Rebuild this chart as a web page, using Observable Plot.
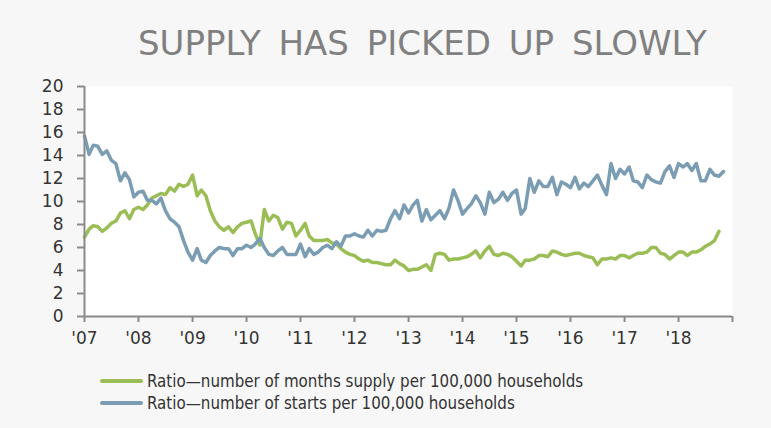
<!DOCTYPE html>
<html><head><meta charset="utf-8">
<script src="https://cdn.jsdelivr.net/npm/d3@7"></script>
<script src="https://cdn.jsdelivr.net/npm/@observablehq/plot@0.6"></script>
<style>
html,body{margin:0;padding:0;background:#f7f7f7;}
body{position:relative;width:771px;height:428px;overflow:hidden;font-family:"DejaVu Sans",Verdana,sans-serif;}
#title{position:absolute;left:138px;top:26px;font-size:34px;line-height:34px;color:#808080;white-space:nowrap;word-spacing:7px;}
#chart{position:absolute;left:0;top:70px;}
#legend{position:absolute;left:100px;top:370px;color:#333;font-family:"DejaVu Sans Condensed","DejaVu Sans",sans-serif;font-size:16.8px;}
.row{display:flex;align-items:center;height:22px;line-height:22px;white-space:nowrap;}
.sw{width:43px;height:4px;border-radius:2px;margin-right:4px;}
</style></head><body>
<div id="title">SUPPLY HAS PICKED UP SLOWLY</div>
<div id="chart"></div>
<div id="legend"></div>
<script>
const startYear = 2007;
const seriesNames = ["Ratio\u2014number of months supply per 100,000 households", "Ratio\u2014number of starts per 100,000 households"];
const seriesColors = ["#9bbd56", "#7b9db3"];
// monthly values, from Jan 2007
const supplyRatio = [
  6.9, 7.6, 7.9, 7.8, 7.4, 7.7, 8.1, 8.3, 9.0, 9.2, 8.5, 9.3,
  9.5, 9.3, 9.7, 10.3, 10.5, 10.7, 10.6, 11.2, 10.9, 11.5, 11.3, 11.5,
  12.3, 10.5, 11.0, 10.5, 9.2, 8.3, 7.8, 7.5, 7.8, 7.3, 7.8, 8.1,
  8.2, 8.3, 7.2, 6.2, 9.3, 8.3, 8.8, 8.6, 7.6, 8.2, 8.1, 7.0,
  7.5, 8.1, 7.0, 6.6, 6.6, 6.6, 6.7, 6.4, 6.3, 5.9, 5.6, 5.4,
  5.3, 5.0, 4.8, 4.9, 4.7, 4.7, 4.6, 4.5, 4.5, 4.9, 4.6, 4.4,
  4.0, 4.1, 4.1, 4.3, 4.5, 4.0, 5.4, 5.5, 5.4, 4.9, 5.0, 5.0,
  5.1, 5.2, 5.4, 5.7, 5.1, 5.7, 6.1, 5.4, 5.3, 5.5, 5.4, 5.2,
  4.8, 4.4, 4.9, 4.9, 5.0, 5.3, 5.3, 5.2, 5.7, 5.6, 5.4, 5.3,
  5.4, 5.5, 5.5, 5.3, 5.2, 5.1, 4.5, 5.0, 5.0, 5.1, 5.0, 5.3,
  5.3, 5.1, 5.3, 5.5, 5.5, 5.6, 6.0, 6.0, 5.5, 5.4, 5.0, 5.3,
  5.6, 5.6, 5.3, 5.6, 5.6, 5.8, 6.1, 6.3, 6.6, 7.4
];
const startsRatio = [
  15.7, 14.1, 14.9, 14.8, 14.1, 14.4, 13.6, 13.3, 11.8, 12.5, 11.9, 10.4,
  10.8, 10.9, 10.1, 10.1, 9.8, 10.3, 9.2, 8.5, 8.2, 7.8, 6.6, 5.6,
  4.9, 5.9, 4.9, 4.7, 5.3, 5.7, 6.0, 5.9, 5.9, 5.3, 5.9, 5.9,
  6.2, 6.0, 6.3, 6.8, 6.0, 5.4, 5.3, 5.7, 6.0, 5.4, 5.4, 5.4,
  6.3, 5.2, 5.9, 5.4, 5.6, 6.0, 6.2, 5.9, 6.5, 6.1, 7.0, 7.0,
  7.2, 7.0, 6.9, 7.5, 7.0, 7.5, 7.4, 7.5, 8.5, 9.2, 8.5, 9.7,
  9.0, 9.7, 10.1, 8.3, 9.3, 8.4, 8.8, 9.2, 8.5, 9.4, 11.0, 10.1,
  8.9, 9.4, 9.8, 10.5, 9.9, 8.9, 10.8, 9.9, 10.2, 10.8, 10.1, 10.7,
  11.0, 8.9, 9.4, 12.0, 10.8, 11.8, 11.3, 11.3, 12.1, 10.6, 11.7, 11.5,
  11.2, 12.1, 11.1, 11.6, 11.3, 11.8, 12.3, 11.4, 10.6, 13.3, 12.0, 12.8,
  12.4, 13.0, 11.8, 11.7, 11.2, 12.3, 11.9, 11.7, 11.6, 12.6, 13.1, 12.1,
  13.3, 13.0, 13.3, 12.7, 13.3, 11.8, 11.8, 12.8, 12.3, 12.2, 12.6
];
const yTicks = d3.range(0, 21, 2);
const yearTicks = d3.range(2007, 2020);

const toRows = (arr, name) => arr.map((v, i) => ({date: new Date(Date.UTC(startYear, i, 1)), value: v, series: name}));
const data = [...toRows(supplyRatio, seriesNames[0]), ...toRows(startsRatio, seriesNames[1])];
const axisGray = "#8a8a8a";
const x0 = new Date(Date.UTC(yearTicks[0], 0, 1));
const x1 = new Date(Date.UTC(yearTicks[yearTicks.length - 1], 0, 1));

const chart = Plot.plot({
  width: 771, height: 281,
  marginTop: 16, marginBottom: 35, marginLeft: 84, marginRight: 39,
  style: {background: "transparent", fontFamily: "'DejaVu Sans', Verdana, sans-serif", fontSize: "17px", color: "#333", overflow: "visible"},
  x: {type: "utc", domain: [x0, x1]},
  y: {domain: [0, 20]},
  color: {domain: seriesNames, range: seriesColors},
  marks: [
    Plot.frame({fill: "white", stroke: "none"}),
    Plot.axisY({ticks: yTicks, tickSize: 7, tickPadding: 14, stroke: axisGray, strokeWidth: 2, fill: "#333", fontSize: 17, label: null}),
    Plot.axisX({ticks: yearTicks.map(y => new Date(Date.UTC(y, 0, 1))), tickSize: 6, tickPadding: 9, stroke: axisGray, strokeWidth: 2, fill: "#333", fontSize: 17, label: null,
      tickFormat: d => d.getUTCFullYear() < yearTicks[yearTicks.length - 1] ? "'" + String(d.getUTCFullYear()).slice(2) : ""}),
    Plot.lineY(data, {x: "date", y: "value", stroke: "series", strokeWidth: 3.5, strokeLinejoin: "round"}),
    Plot.ruleX([x0], {stroke: axisGray, strokeWidth: 2}),
    Plot.ruleY([0], {stroke: axisGray, strokeWidth: 2})
  ]
});
document.getElementById("chart").appendChild(chart);

const legend = document.getElementById("legend");
seriesNames.forEach((name, i) => {
  const row = document.createElement("div");
  row.className = "row";
  const sw = document.createElement("div");
  sw.className = "sw";
  sw.style.background = seriesColors[i];
  const tx = document.createElement("span");
  tx.textContent = name;
  row.appendChild(sw); row.appendChild(tx);
  legend.appendChild(row);
});
</script>
</body></html>
